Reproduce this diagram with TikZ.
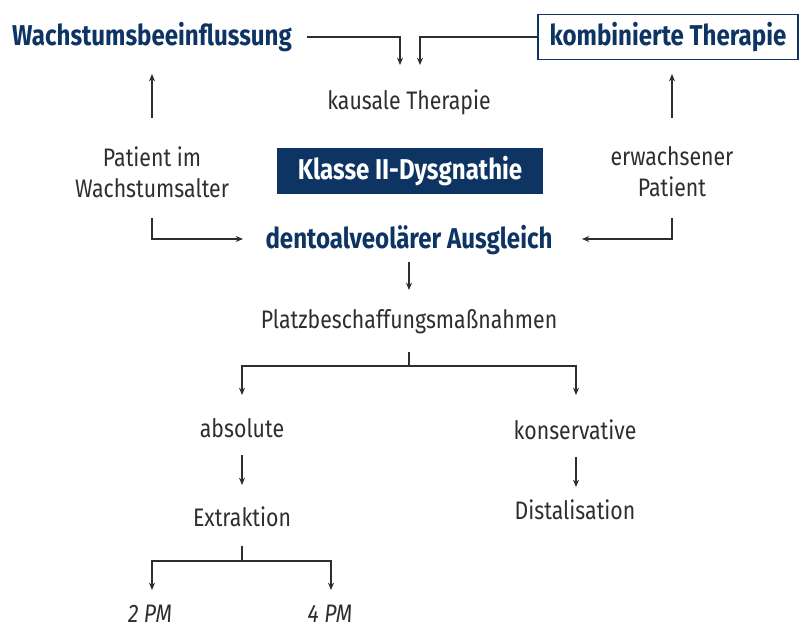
\documentclass[tikz,border=0pt]{standalone}
\usepackage{fontspec}
\setmainfont[FakeStretch=0.84]{Fira Sans}
\usetikzlibrary{arrows.meta,calc}
\definecolor{navy}{HTML}{0E3463}
\definecolor{ink}{HTML}{2E2E2E}
\begin{document}
\begin{tikzpicture}[x=0.75pt,y=-0.75pt,
  txt/.style={font=\fontsize{19}{23.5}\selectfont, text=ink, inner sep=0pt, align=center},
  hd/.style={font=\fontsize{21.5}{24}\selectfont\bfseries, text=navy, inner sep=0pt},
  itx/.style={txt, font=\fontsize{19}{23.5}\selectfont\itshape},
  line/.style={draw=ink, line width=0.8pt},
  arr/.style={line, -{Stealth[length=5.5pt,width=4.5pt]}}]
\useasboundingbox (0,0) rectangle (800,630);

% nodes
\node[hd] (wb) at (152,37) {Wachstumsbeeinflussung};
\node[hd, draw=navy, line width=0.8pt, minimum width=195pt, minimum height=34pt] (kt) at (668,37) {kombinierte Therapie};
\node[txt] (ka) at (409,102) {kausale Therapie};
\node[txt] (pw) at (152,172) {Patient im\\Wachstumsalter};
\node[hd, fill=navy, text=white, minimum width=200pt, minimum height=34pt] (k2) at (410,171) {Klasse II-Dysgnathie};
\node[txt] (ep) at (672,172) {erwachsener\\Patient};
\node[hd] (da) at (409,240) {dentoalveolärer Ausgleich};
\node[txt] (pb) at (409,322) {Platzbeschaffungsmaßnahmen};
\node[txt] (ab) at (242,428) {absolute};
\node[txt] (ko) at (575,430) {konservative};
\node[txt] (ex) at (242,517) {Extraktion};
\node[txt] (di) at (575,510) {Distalisation};
\node[itx] (p2) at (150,614) {2 PM};
\node[itx] (p4) at (330,614) {4 PM};

% coordinates
\coordinate (a1) at (400,65);
\coordinate (a2) at (420,65);
\coordinate (s1) at (307,37);
\coordinate (wbu) at (152,74);
\coordinate (wbd) at (152,118);
\coordinate (ktu) at (672,74);
\coordinate (ktd) at (672,118);
\coordinate (pwd) at (152,218);
\coordinate (epd) at (672,218);
\coordinate (dal) at (243,239);
\coordinate (dar) at (582,239);
\coordinate (dau) at (409,262);
\coordinate (pbu) at (409,290);
\coordinate (pbd) at (409,352);
\coordinate (pbj) at (409,366);
\coordinate (abu) at (242,395);
\coordinate (kou) at (576,395);
\coordinate (abd) at (242,455);
\coordinate (exu) at (242,485);
\coordinate (kod) at (576,457);
\coordinate (diu) at (576,487);
\coordinate (exd) at (242,546);
\coordinate (exj) at (242,561);
\coordinate (p2u) at (152,590);
\coordinate (p4u) at (331,590);

% connectors
\draw[arr] (s1) -| (a1);
\draw[arr] (kt.west) -| (a2);
\draw[arr] (wbd) -- (wbu);
\draw[arr] (ktd) -- (ktu);
\draw[arr] (pwd) |- (dal);
\draw[arr] (epd) |- (dar);
\draw[arr] (dau) -- (pbu);
\draw[line] (pbd) -- (pbj);
\draw[arr] (pbj) -| (abu);
\draw[arr] (pbj) -| (kou);
\draw[arr] (abd) -- (exu);
\draw[arr] (kod) -- (diu);
\draw[line] (exd) -- (exj);
\draw[arr] (exj) -| (p2u);
\draw[arr] (exj) -| (p4u);
\end{tikzpicture}
\end{document}
